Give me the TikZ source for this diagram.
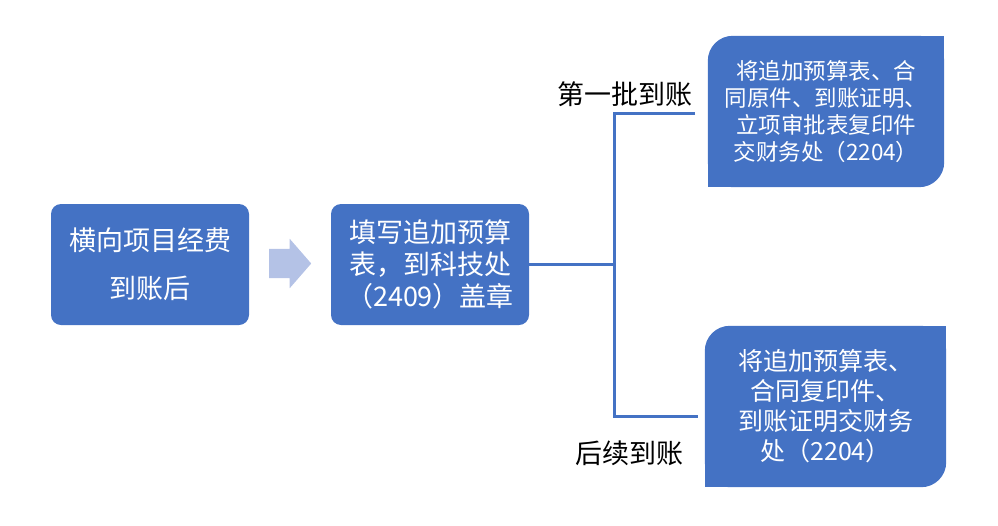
\documentclass[tikz,border=0pt]{standalone}
\usepackage{fontspec}
\setmainfont{Noto Sans CJK SC}
\usetikzlibrary{shapes.arrows, backgrounds}
\definecolor{boxblue}{RGB}{68,114,196}
\definecolor{arrowblue}{RGB}{180,194,230}

\begin{document}
\begin{tikzpicture}[x=1pt, y=-1pt,
    stepbox/.style={rectangle, fill=boxblue, rounded corners=10pt, text=white, align=center,
        inner sep=0pt, minimum width=198pt, minimum height=121pt},
    notebox/.style={rectangle, text=white, align=center, inner sep=0pt},
    link/.style={draw=boxblue, line width=3pt},
    tag/.style={text=black, font=\fontsize{27}{32}\selectfont}]
    \useasboundingbox (0,0) rectangle (998,525);
    \node[stepbox, font=\fontsize{27}{48}\selectfont] (arrival) at (150,264.5) {横向项目经费\\到账后};
    \node[single arrow, fill=arrowblue, inner xsep=0pt, inner ysep=14.5pt, minimum height=42pt,
        single arrow head extend=10pt, single arrow tip angle=98, anchor=tail] (push) at (269,263.5) {};
    \node[stepbox, font=\fontsize{27}{32}\selectfont] (plan) at (430,264.5) {填写追加预算\\表，到科技处\\（2409）盖章};
    \node[notebox, minimum width=236pt, minimum height=151pt, font=\fontsize{22.5}{27}\selectfont] (first) at (826,111.5)
        {将追加预算表、合\\同原件、到账证明、\\立项审批表复印件\\交财务处（2204）};
    \node[notebox, minimum width=241pt, minimum height=161pt, font=\fontsize{25}{30}\selectfont] (later) at (825.5,406.5)
        {将追加预算表、\\合同复印件、\\到账证明交财务\\处（2204）};
    \begin{scope}[on background layer]
        \foreach \n in {first, later} {
            \fill[boxblue, rounded corners=25pt] (\n.south west) rectangle (\n.north east);
            \fill[boxblue] (\n.north east) rectangle ([xshift=-30pt, yshift=-30pt]\n.north east);
            \fill[boxblue] (\n.south west) rectangle ([xshift=30pt, yshift=30pt]\n.south west);
        }
    \end{scope}
    \node[tag] (firstTag) at (625,94) {第一批到账};
    \node[tag] (laterTag) at (629,453) {后续到账};
    % fork towards the two payment cases
    \coordinate (fork) at (614.5,264.5);
    \coordinate (firstEnd) at (695,113);
    \coordinate (laterEnd) at (698,416.5);
    \draw[link] (plan.east) -- (fork);
    \draw[link] (firstEnd) -| (fork) |- (laterEnd);
\end{tikzpicture}
\end{document}
